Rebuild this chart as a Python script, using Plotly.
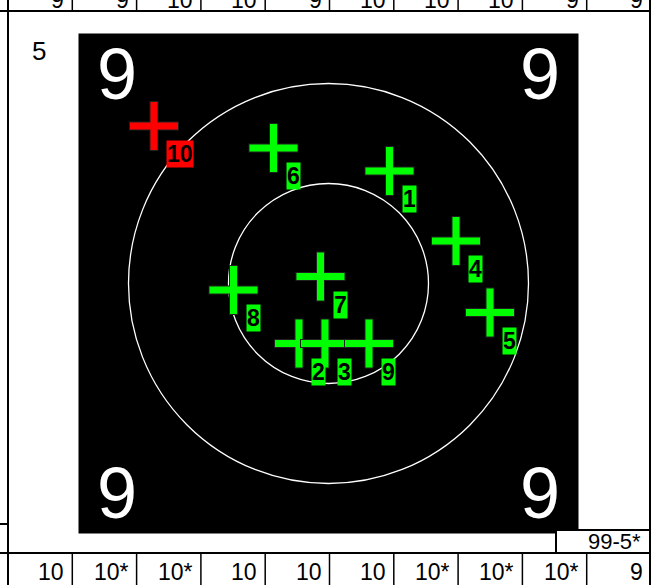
import plotly.graph_objects as go

# ---------------- data ----------------
series_label = "5"
shot_numbers = [1, 2, 3, 4, 5, 6, 7, 8, 9, 10]
shot_x = [61, -29.5, -3.5, 127.5, 161.5, -55, -8, -95, 40.5, -174.5]
shot_y = [112.5, -60, -60, 42.5, -29, 135.5, 7, -6.5, -60, 157.5]
shot_scores = ["10", "10*", "10*", "10", "10", "10", "10*", "10*", "10*", "9"]
prev_scores = ["9", "9", "10", "10", "9", "10", "10", "10", "9", "9"]
total_label = "99-5*"
ring_radii = [200, 100]
corner_label = "9"
target_half = 250

# ---------------- layout constants (page units, 1 unit = 1 px) ----------------
W, H = 651, 585
X_RANGE = [-328.5, 322.5]
Y_RANGE = [-301.5, 283.5]
table_left, table_right = -320.5, 322.5
top_line_y = 272.5
bottom_line_y = -269.5
page_top = Y_RANGE[1]
page_bottom = Y_RANGE[0]
FONT = "Liberation Sans, Arial, sans-serif"
GREEN = "#00ff00"
RED = "#ff0000"

fig = go.Figure()
shapes = []
annotations = []

# target square
shapes.append(dict(type="rect", xref="x", yref="y", layer="below",
                   x0=-target_half, x1=target_half, y0=-target_half, y1=target_half,
                   fillcolor="black", line=dict(width=0)))
# rings
for r in ring_radii:
    shapes.append(dict(type="circle", xref="x", yref="y", layer="below",
                       x0=-r, x1=r, y0=-r, y1=r,
                       line=dict(color="white", width=1.3)))

# corner labels
for sx in (-1, 1):
    for sy in (-1, 1):
        annotations.append(dict(x=sx * 211.5, y=sy * 209.5, xref="x", yref="y",
                                text=corner_label, showarrow=False,
                                font=dict(family=FONT, size=72, color="white")))

# series label
annotations.append(dict(x=-290, y=232.5, xref="x", yref="y", text=series_label,
                        showarrow=False, font=dict(family=FONT, size=26, color="black")))

# shots
for i, n in enumerate(shot_numbers):
    col = RED if shot_scores[i] == "9" else GREEN
    fig.add_trace(go.Scatter(x=[shot_x[i]], y=[shot_y[i]], mode="markers",
                             marker=dict(symbol="cross-thin", size=35.7,
                                         color="#202020",
                                         line=dict(width=9, color="#202020")),
                             hoverinfo="skip", showlegend=False))
    fig.add_trace(go.Scatter(x=[shot_x[i]], y=[shot_y[i]], mode="markers",
                             marker=dict(symbol="cross-thin", size=34.3,
                                         color=col,
                                         line=dict(width=7, color=col)),
                             hoverinfo="skip", showlegend=False))
    annotations.append(dict(x=shot_x[i], y=shot_y[i], xref="x", yref="y",
                            text=str(n), showarrow=False,
                            xanchor="left", yanchor="top", xshift=12, yshift=-14,
                            bgcolor=col, borderpad=0,
                            font=dict(family=FONT, size=23, color="black", weight="bold")))

# table lines
line_k = dict(color="black", width=2)
shapes.append(dict(type="line", xref="x", yref="y", x0=X_RANGE[0], x1=X_RANGE[1],
                   y0=top_line_y, y1=top_line_y, line=line_k))
shapes.append(dict(type="line", xref="x", yref="y", x0=X_RANGE[0], x1=X_RANGE[1],
                   y0=bottom_line_y, y1=bottom_line_y, line=line_k))
shapes.append(dict(type="line", xref="x", yref="y", x0=table_left, x1=table_left,
                   y0=page_bottom, y1=page_top, line=line_k))
shapes.append(dict(type="line", xref="x", yref="y", x0=table_right - 1, x1=table_right - 1,
                   y0=page_bottom, y1=page_top, line=line_k))
shapes.append(dict(type="line", xref="x", yref="y", x0=X_RANGE[0], x1=table_left,
                   y0=-240.5, y1=-240.5, line=line_k))

n_cells = len(shot_scores)
cw = (table_right - table_left) / n_cells
for k in range(1, n_cells):
    xv = table_left + k * cw
    shapes.append(dict(type="line", xref="x", yref="y", x0=xv, x1=xv,
                       y0=top_line_y, y1=page_top, line=dict(color="black", width=1.5)))
    shapes.append(dict(type="line", xref="x", yref="y", x0=xv, x1=xv,
                       y0=page_bottom, y1=bottom_line_y, line=dict(color="black", width=1.5)))
for k in range(n_cells):
    xr = table_left + (k + 1) * cw - 6
    annotations.append(dict(x=xr, y=-288.5, xref="x", yref="y", text=shot_scores[k],
                            showarrow=False, xanchor="right",
                            font=dict(family=FONT, size=23, color="black")))
    # previous series row, cut off by the top edge of the page
    annotations.append(dict(x=xr, y=1, xref="x", yref="paper", text=prev_scores[k],
                            showarrow=False, xanchor="right", yanchor="middle",
                            font=dict(family=FONT, size=23, color="black")))

# total box
shapes.append(dict(type="rect", xref="x", yref="y", x0=227.5, x1=table_right - 1,
                   y0=bottom_line_y, y1=-246.5, fillcolor="white",
                   line=dict(color="black", width=2)))
annotations.append(dict(x=314.5, y=-257.5, xref="x", yref="y", text=total_label,
                        showarrow=False, xanchor="right",
                        font=dict(family=FONT, size=22, color="black")))

fig.update_layout(
    width=W, height=H, margin=dict(l=0, r=0, t=0, b=0),
    paper_bgcolor="white", plot_bgcolor="white",
    xaxis=dict(range=X_RANGE, visible=False, fixedrange=True),
    yaxis=dict(range=Y_RANGE, visible=False, fixedrange=True),
    shapes=shapes, annotations=annotations, showlegend=False,
)
fig.write_html("out.html", config={"displayModeBar": False},
               post_script="document.body.style.margin='0px';document.body.style.overflow='hidden';")
